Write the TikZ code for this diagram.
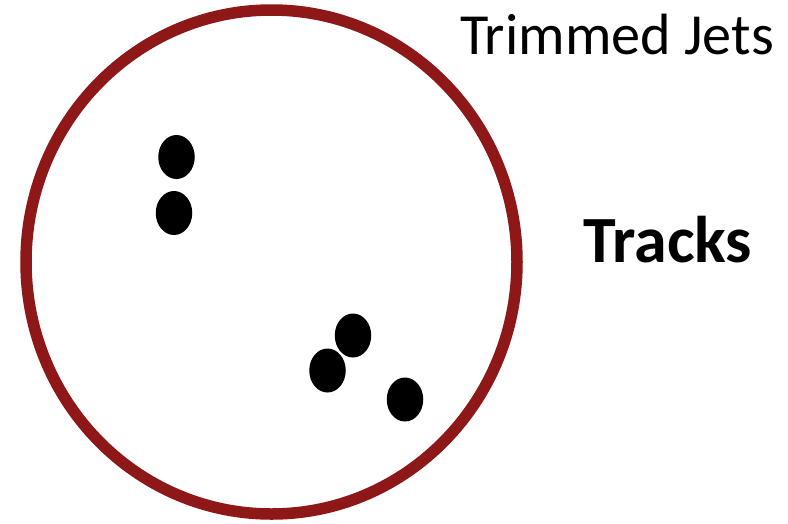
\documentclass[tikz,border=0pt]{standalone}
\usepackage{fontspec}
\setmainfont{Carlito}
\usetikzlibrary{shapes.geometric}
\definecolor{jetred}{RGB}{142,23,24}
\begin{document}
\begin{tikzpicture}[
    x=1pt, y=-1pt,
    jet/.style={draw=jetred, line width=11.5pt, ellipse, minimum width=491pt,
                minimum height=504pt, inner sep=0pt},
    track/.style={fill=black, ellipse, minimum width=36.5pt, minimum height=44pt,
                  inner sep=0pt},
    label/.style={anchor=base west, inner sep=0pt},
]
\useasboundingbox (0,0) rectangle (788,523);
\node[jet] (jet) at (271.5,262) {};
% tracks inside the jet
\node[track] (t1) at (176.5,157) {};
\node[track] (t2) at (174,213) {};
\node[track] (t3) at (353,335.5) {};
\node[track] (t4) at (327.5,370.5) {};
\node[track] (t5) at (405,399.5) {};
% labels
\node[label, font=\fontsize{58.2}{63}\selectfont] (title) at (460,54) {Trimmed Jets};
\node[label, font=\fontsize{66}{72}\selectfont\bfseries] (tracks) at (583,262) {Tracks};
\end{tikzpicture}
\end{document}
